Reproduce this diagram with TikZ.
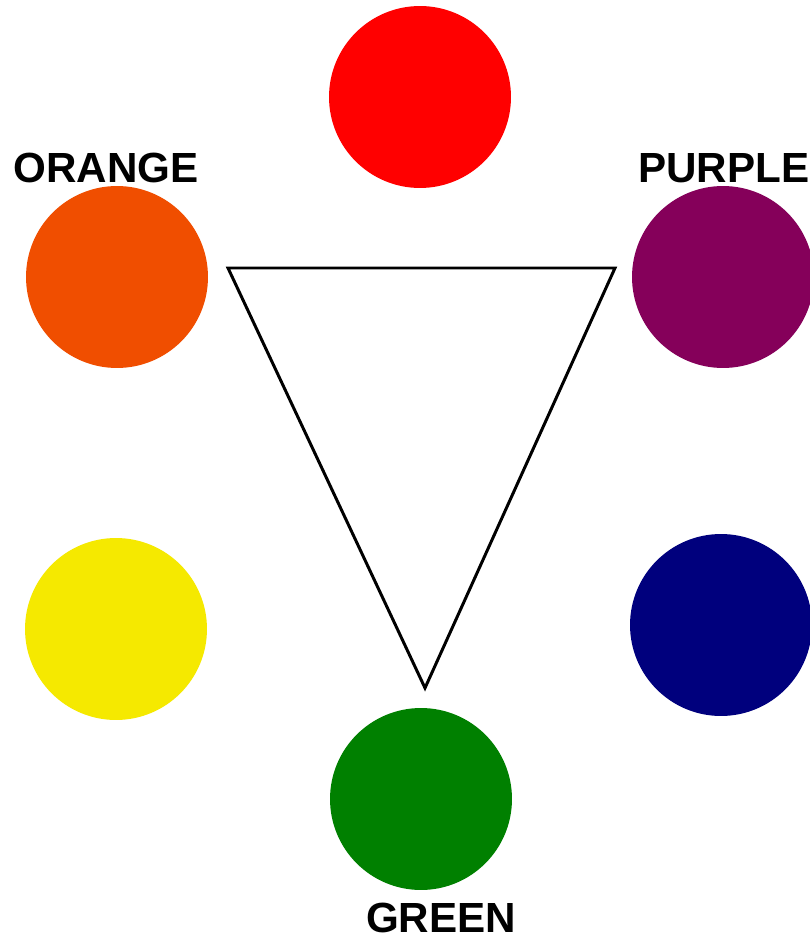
\documentclass[tikz,border=0pt]{standalone}
\usepackage{fontspec}
\setsansfont{Liberation Sans}
\definecolor{hued}{HTML}{FF0000}
\definecolor{hueorange}{HTML}{F04E00}
\definecolor{huepurple}{HTML}{85005A}
\definecolor{hueyellow}{HTML}{F5E900}
\definecolor{huenavy}{HTML}{00007D}
\definecolor{huegreen}{HTML}{008000}
\begin{document}
\begin{tikzpicture}[x=0.02cm, y=-0.02cm,
  dot/.style={circle, draw=none, minimum size=3.64cm, inner sep=0pt},
  lbl/.style={inner sep=0pt, font=\sffamily\bfseries\fontsize{24}{28}\selectfont}
]
  \useasboundingbox[fill=white] (0,0) rectangle (809,942);

  % colour wheel
  \node[dot, fill=hued] (red) at (420,97) {};
  \node[dot, fill=hueorange] (orange) at (117,277) {};
  \node[dot, fill=huepurple] (purple) at (723,277) {};
  \node[dot, fill=hueyellow] (yellow) at (116,629) {};
  \node[dot, fill=huenavy] (navy) at (721,625) {};
  \node[dot, fill=huegreen] (green) at (421,799) {};

  % secondary triad
  \coordinate (tl) at (228,268);
  \coordinate (tr) at (615,268);
  \coordinate (tb) at (425,688);
  \draw[line width=1.7pt, line join=miter] (tl) -- (tr) -- (tb) -- cycle;

  \node[lbl] (orangelbl) at (106,168) {ORANGE};
  \node[lbl, anchor=west] (purplelbl) at (638,168) {PURPLE};
  \node[lbl] (greenlbl) at (441,918) {GREEN};
\end{tikzpicture}
\end{document}
